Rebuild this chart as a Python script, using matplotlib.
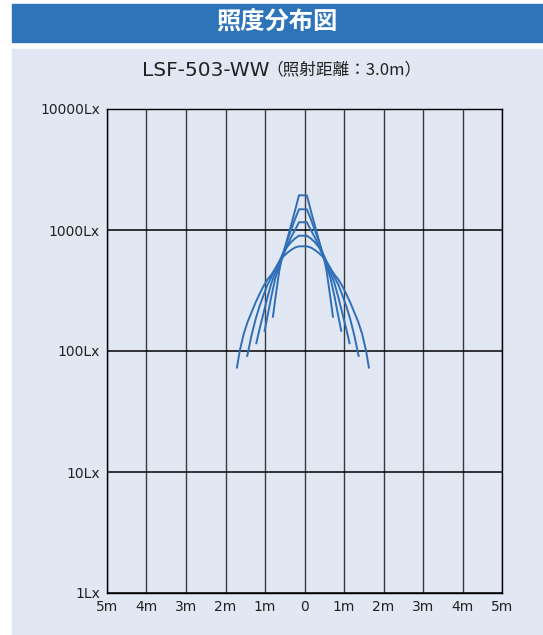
import numpy as np
from matplotlib import pyplot as plt
from matplotlib.patches import Rectangle

# half profiles (distance from centre [m], illuminance [Lx]), mirrored when drawn
dist1 = [0.0, 0.1, 0.2, 0.3, 0.4, 0.5, 0.55, 0.6, 0.65, 0.7, 0.76]
lux1 = [1936, 1936, 1445, 1096, 832, 631, 550, 457, 351, 269, 192]

dist2 = [0.0, 0.1, 0.2, 0.3, 0.4, 0.5, 0.6, 0.7, 0.8, 0.9, 0.97]
lux2 = [1483, 1483, 1230, 1000, 813, 646, 501, 398, 282, 191, 147]

dist3 = [0.0, 0.1, 0.2, 0.3, 0.4, 0.5, 0.6, 0.7, 0.8, 0.9, 1.0, 1.1, 1.18]
lux3 = [1159, 1159, 1000, 871, 741, 617, 513, 442, 363, 275, 204, 151, 116]

dist4 = [0.0, 0.1, 0.2, 0.3, 0.4, 0.5, 0.6, 0.7, 0.8, 0.9, 1.0, 1.1, 1.2, 1.3, 1.41]
lux4 = [897, 897, 851, 794, 724, 646, 550, 479, 407, 351, 288, 234, 182, 135, 91]

dist5 = [0.0, 0.1, 0.2, 0.3, 0.4, 0.5, 0.6, 0.7, 0.8, 0.9, 1.0, 1.1, 1.2, 1.3,
         1.4, 1.5, 1.6, 1.67]
lux5 = [733, 733, 716, 684, 646, 603, 537, 479, 427, 389, 343, 295, 251, 209,
        174, 138, 100, 73]

xticks = [-5, -4, -3, -2, -1, 0, 1, 2, 3, 4, 5]
xlabels = ['5m', '4m', '3m', '2m', '1m', '0', '1m', '2m', '3m', '4m', '5m']
yticks = [1, 10, 100, 1000, 10000]
ylabels = ['1Lx', '10Lx', '100Lx', '1000Lx', '10000Lx']

plt.rcParams['font.family'] = ['DejaVu Sans', 'Noto Sans CJK JP']

W, H = 543, 635
fig = plt.figure(figsize=(W / 100, H / 100), dpi=100)
fig.patch.set_facecolor('white')

# header bar and panel
fig.add_artist(Rectangle((12 / W, 1 - 42 / H), 1, 38 / H,
                         transform=fig.transFigure, color='#2D74B9', zorder=-5))
fig.add_artist(Rectangle((12 / W, 1 - 634 / H), 1, (634 - 49) / H,
                         transform=fig.transFigure, color='#E1E8F4', zorder=-5))
fig.text(277 / W, 1 - 23 / H, '照度分布図', color='white', fontsize=17.5,
         fontweight='bold', ha='center', va='center',
         family=['Noto Sans CJK JP', 'DejaVu Sans'])
fig.text(270 / W, 1 - 71 / H, 'LSF-503-WW', fontsize=14.5, ha='right', va='center',
         color='#222222')
fig.text(266 / W, 1 - 70 / H, '（照射距離：3.0m）', fontsize=12, ha='left',
         va='center', color='#222222', family=['Noto Sans CJK JP', 'DejaVu Sans'])

ax = fig.add_axes([107 / W, 1 - 593 / H, 395 / W, 484 / H])
ax.set_facecolor('#E1E8F4')
ax.set_yscale('log')
ax.set_xlim(-5, 5)
ax.set_ylim(1, 10000)

# curves sit a touch left of the 0 line in the original
shift = -0.04
for d, l in [(dist1, lux1), (dist2, lux2), (dist3, lux3), (dist4, lux4), (dist5, lux5)]:
    d = np.array(d)
    l = np.array(l)
    x = np.concatenate([-d[::-1], d[1:]]) + shift
    y = np.concatenate([l[::-1], l[1:]])
    ax.plot(x, y, color='#2F6FB7', lw=1.4, zorder=3)

for xv in xticks:
    ax.axvline(xv, color='#3a3a3a', lw=1.0, zorder=1)
for yv in yticks:
    ax.axhline(yv, color='black', lw=1.1, zorder=2)

ax.set_xticks(xticks)
ax.set_xticklabels(xlabels, fontsize=10)
ax.set_yticks(yticks)
ax.set_yticklabels(ylabels, fontsize=10)
ax.minorticks_off()
ax.tick_params(length=0, pad=5, colors='#222222')
for s in ax.spines.values():
    s.set_color('black')
    s.set_linewidth(1.0)

fig.savefig('out.png', dpi=100)
